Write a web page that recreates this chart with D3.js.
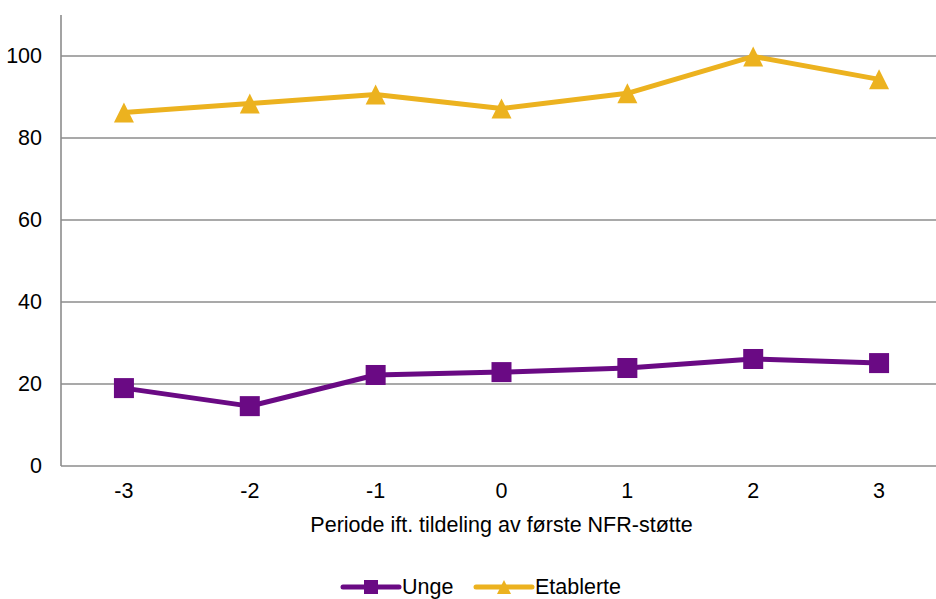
<!DOCTYPE html>
<html>
<head>
<meta charset="utf-8">
<script src="https://cdn.jsdelivr.net/npm/d3@7"></script>
<style>
  html, body { margin: 0; padding: 0; background: #fff; }
  svg { display: block; font-family: "Liberation Sans", Arial, sans-serif; }
</style>
</head>
<body>
<svg id="chart" width="936" height="599"></svg>
<script>
// Periods relative to first NFR grant
const periods = ["-3", "-2", "-1", "0", "1", "2", "3"];
const ungeValues = [19.0, 14.6, 22.2, 22.9, 23.9, 26.1, 25.1];
const etablerteValues = [86.2, 88.4, 90.6, 87.2, 90.9, 99.9, 94.3];
const yTicks = [0, 20, 40, 60, 80, 100];
const seriesNames = ["Unge", "Etablerte"];
const seriesColors = ["#6a0a84", "#ecb21f"];

const svg = d3.select("#chart");
const plotLeft = 61, plotRight = 942, plotTop = 15, plotBottom = 466;
const fontSize = 21.5;
const fontFamily = "Liberation Sans, Arial, sans-serif";

const x = d3.scaleBand().domain(periods).range([plotLeft, plotRight]).padding(0);
const y = d3.scaleLinear().domain([0, 110]).range([plotBottom, plotTop]);
const cx = d => x(d) + x.bandwidth() / 2;

// Upward triangle centred on its bounding box
const triangleType = {
  draw(context, size) {
    const h = Math.sqrt(size);
    context.moveTo(0, -h / 2);
    context.lineTo(h / 2, h / 2);
    context.lineTo(-h / 2, h / 2);
    context.closePath();
  }
};

// Horizontal gridlines
svg.append("g").selectAll("line")
  .data(yTicks)
  .join("line")
  .attr("x1", plotLeft).attr("x2", plotRight)
  .attr("y1", d => y(d)).attr("y2", d => y(d))
  .attr("stroke", "#8c8c8c").attr("stroke-width", 1.6);

// Y axis line
svg.append("line")
  .attr("x1", plotLeft).attr("x2", plotLeft)
  .attr("y1", y(110)).attr("y2", plotBottom)
  .attr("stroke", "#8c8c8c").attr("stroke-width", 1.6);

// Y tick labels
const yAxis = d3.axisLeft(y).tickValues(yTicks).tickSize(0).tickPadding(19);
const gy = svg.append("g").attr("transform", `translate(${plotLeft},0)`).call(yAxis);
gy.select(".domain").remove();
gy.attr("font-size", fontSize).attr("font-family", fontFamily);
gy.selectAll("text").attr("fill", "#000");

// X tick labels
const xAxis = d3.axisBottom(x).tickSize(0).tickPadding(17);
const gx = svg.append("g").attr("transform", `translate(0,${plotBottom})`).call(xAxis);
gx.select(".domain").remove();
gx.attr("font-size", fontSize).attr("font-family", fontFamily);
gx.selectAll("text").attr("fill", "#000");

// X axis title
svg.append("text")
  .attr("x", (plotLeft + plotRight) / 2).attr("y", 532)
  .attr("text-anchor", "middle").attr("font-size", fontSize).attr("fill", "#000")
  .text("Periode ift. tildeling av første NFR-støtte");

const line = d3.line().x((d, i) => cx(periods[i])).y(d => y(d));
const tri = d3.symbol().type(triangleType).size(400);

// Unge series
svg.append("path").datum(ungeValues)
  .attr("d", line).attr("fill", "none")
  .attr("stroke", seriesColors[0]).attr("stroke-width", 5).attr("stroke-linejoin", "round");
svg.append("g").selectAll("rect")
  .data(ungeValues)
  .join("rect")
  .attr("x", (d, i) => cx(periods[i]) - 10).attr("y", d => y(d) - 10)
  .attr("width", 20).attr("height", 20)
  .attr("fill", seriesColors[0]);

// Etablerte series
svg.append("path").datum(etablerteValues)
  .attr("d", line).attr("fill", "none")
  .attr("stroke", seriesColors[1]).attr("stroke-width", 5).attr("stroke-linejoin", "round");
svg.append("g").selectAll("path")
  .data(etablerteValues)
  .join("path")
  .attr("d", tri)
  .attr("transform", (d, i) => `translate(${cx(periods[i])},${y(d)})`)
  .attr("fill", seriesColors[1]);

// Legend
const legend = svg.append("g");
const legendX = [343, 476];
seriesNames.forEach((name, i) => {
  const g = legend.append("g").attr("transform", `translate(${legendX[i]},587)`);
  g.append("line").attr("x1", 0).attr("x2", 56).attr("y1", 0).attr("y2", 0)
    .attr("stroke", seriesColors[i]).attr("stroke-width", 5).attr("stroke-linecap", "round");
  if (i === 0) {
    g.append("rect").attr("x", 21).attr("y", -7).attr("width", 14).attr("height", 14)
      .attr("fill", seriesColors[i]);
  } else {
    g.append("path").attr("d", d3.symbol().type(triangleType).size(196))
      .attr("transform", "translate(28,0)").attr("fill", seriesColors[i]);
  }
  g.append("text").attr("x", 59).attr("y", 7).attr("font-size", fontSize).attr("fill", "#000")
    .text(name);
});
</script>
</body>
</html>
